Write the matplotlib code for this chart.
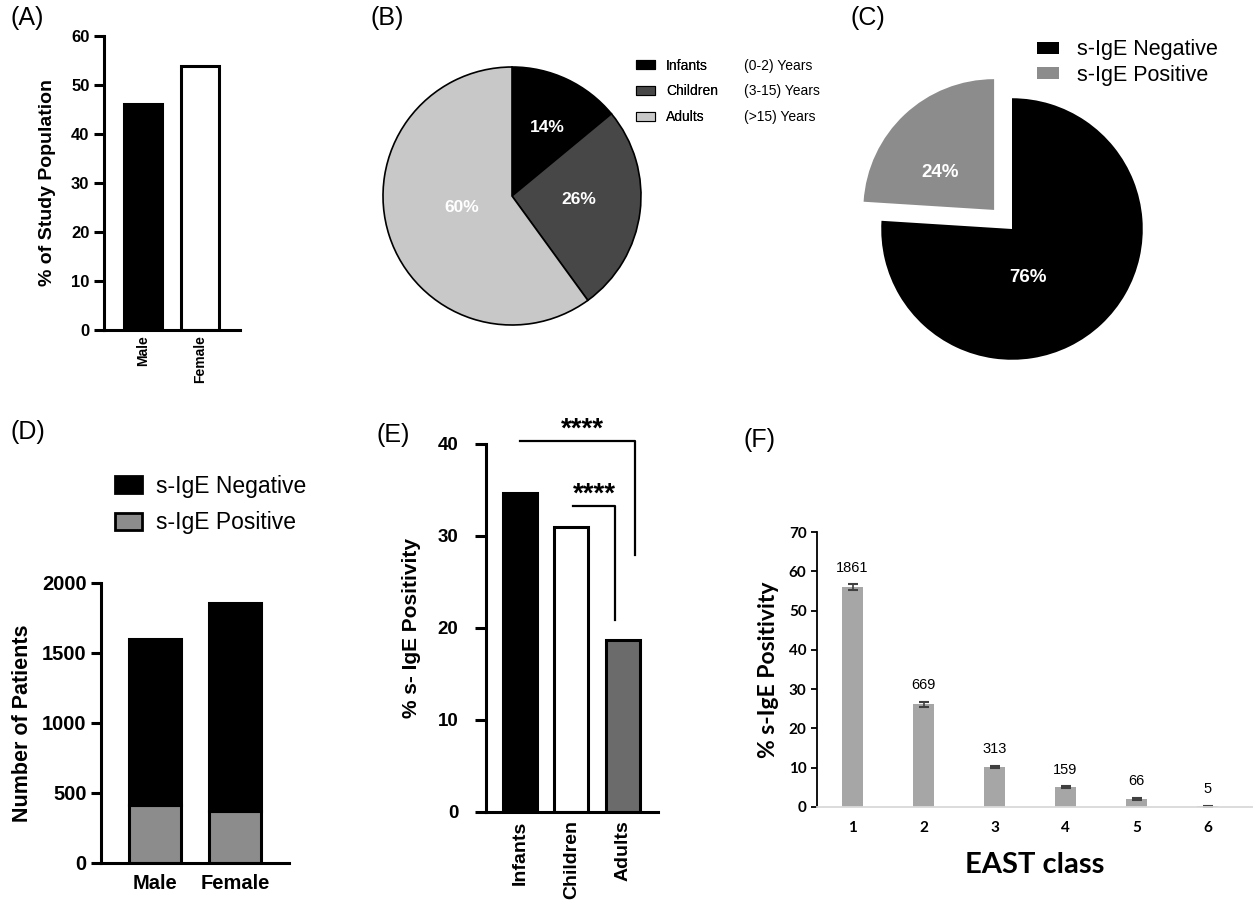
import matplotlib
matplotlib.use('Agg')
import matplotlib.pyplot as plt
from matplotlib.patches import Patch

W, H = 1253, 902

# (A) study population by sex
sex_labels = ['Male', 'Female']
sex_pct = [46.2, 53.8]

# (B) age groups
age_groups = ['Infants', 'Children', 'Adults']
age_ranges = ['(0-2) Years', '(3-15) Years', '(>15) Years']
age_pct = [14, 26, 60]

# (C) overall s-IgE result
sige_labels = ['s-IgE Negative', 's-IgE Positive']
sige_pct = [76, 24]

# (D) patient counts by sex
neg_counts = [1185, 1485]
pos_counts = [415, 375]

# (E) positivity by age group
age_positivity = [34.7, 31.0, 18.7]

# (F) positivity by EAST class
east_class = [1, 2, 3, 4, 5, 6]
east_positivity = [56.0, 26.1, 10.2, 5.1, 2.1, 0.2]
east_err = [0.7, 0.6, 0.2, 0.2, 0.2, 0.1]
east_n = [1861, 669, 313, 159, 66, 5]

plt.rcParams['font.family'] = ['Liberation Sans', 'DejaVu Sans']

fig = plt.figure(figsize=(W / 100, H / 100), dpi=100)


def px_axes(left, top, right, bottom):
    return fig.add_axes([left / W, 1 - bottom / H, (right - left) / W, (bottom - top) / H])


def style_prism(ax, lw=2.2):
    for s in ['top', 'right']:
        ax.spines[s].set_visible(False)
    for s in ['left', 'bottom']:
        ax.spines[s].set_linewidth(lw)
    ax.tick_params(axis='y', width=lw, length=7)
    ax.tick_params(axis='x', length=0)


# ---------- (A) ----------
axA = px_axes(104, 36, 240, 330)
axA.bar(range(2), sex_pct, width=0.67, color=['black', 'white'],
        edgecolor='black', linewidth=2.2)
axA.set_xlim(-0.68, 1.70)
axA.set_ylim(0, 60)
axA.set_yticks(range(0, 61, 10))
axA.set_xticks(range(2))
axA.set_xticklabels(sex_labels, rotation=90, fontsize=10, fontweight='bold')
axA.tick_params(axis='y', labelsize=12)
for t in axA.get_yticklabels():
    t.set_fontweight('bold')
axA.set_ylabel('% of Study Population', fontsize=14, fontweight='bold', labelpad=11)
style_prism(axA)

# ---------- (B) ----------
axB = px_axes(383, 67, 641, 325)
axB.pie(age_pct, colors=['black', '#474747', '#c8c8c8'], startangle=90,
        counterclock=False, wedgeprops=dict(edgecolor='black', linewidth=1.2))
label_pos = [(0.27, 0.53), (0.52, -0.03), (-0.39, -0.09)]
for pct, (x, y) in zip(age_pct, label_pos):
    axB.text(x, y, f'{pct}%', color='white', fontsize=12.5, fontweight='bold',
             ha='center', va='center')
axB.set_xlim(-1, 1)
axB.set_ylim(-1, 1)
handlesB = [Patch(facecolor=c, edgecolor='black', linewidth=0.8) for c in ['black', '#474747', '#c8c8c8']]
legB = fig.legend(handlesB, age_groups, loc='upper left', bbox_to_anchor=(623 / W, 1 - 46 / H),
                  frameon=False, fontsize=10, handlelength=1.4, handleheight=0.6,
                  labelspacing=0.85, handletextpad=0.8)
fig.add_artist(legB)
fig.legend([Patch(alpha=0)] * 3, age_ranges, loc='upper left', bbox_to_anchor=(731 / W, 1 - 46 / H),
           frameon=False, fontsize=10, handlelength=0, handletextpad=0, labelspacing=0.85)

# ---------- (C) ----------
axC = px_axes(842, 59, 1182, 399)
axC.pie(sige_pct, colors=['black', '#8c8c8c'], startangle=90, counterclock=False,
        explode=[0, 0.2], wedgeprops=dict(linewidth=0))
axC.text(0.12, -0.37, f'{sige_pct[0]}%', color='white', fontsize=13.5, fontweight='bold',
         ha='center', va='center')
axC.text(-0.55, 0.43, f'{sige_pct[1]}%', color='white', fontsize=13.5, fontweight='bold',
         ha='center', va='center')
axC.set_xlim(-1.3, 1.3)
axC.set_ylim(-1.3, 1.3)
fig.legend([Patch(facecolor='black'), Patch(facecolor='#8c8c8c')], sige_labels,
           loc='upper left', bbox_to_anchor=(1018 / W, 1 - 20 / H), frameon=False,
           fontsize=15.5, handlelength=1.0, handleheight=0.5, labelspacing=0.2, handletextpad=0.85)

# ---------- (D) ----------
axD = px_axes(101, 583, 289, 863)
xD = range(2)
axD.bar(xD, pos_counts, width=0.66, color='#8c8c8c', edgecolor='black', linewidth=2.2)
axD.bar(xD, neg_counts, bottom=pos_counts, width=0.66, color='black', edgecolor='black', linewidth=2.2)
axD.set_xlim(-0.675, 1.675)
axD.set_ylim(0, 2000)
axD.set_yticks(range(0, 2001, 500))
axD.set_xticks(xD)
axD.set_xticklabels(sex_labels, fontsize=14.5, fontweight='bold')
axD.tick_params(axis='y', labelsize=14.5)
for t in axD.get_yticklabels():
    t.set_fontweight('bold')
axD.set_ylabel('Number of Patients', fontsize=15.5, fontweight='bold', labelpad=6)
style_prism(axD)
axD.tick_params(axis='x', pad=8)
fig.legend([Patch(facecolor='black', edgecolor='black', linewidth=2),
            Patch(facecolor='#8c8c8c', edgecolor='black', linewidth=2)], sige_labels,
           loc='upper left', bbox_to_anchor=(94 / W, 1 - 454 / H), frameon=False,
           fontsize=16.5, handlelength=1.2, handleheight=0.75, labelspacing=0.6, handletextpad=0.6)

# ---------- (E) ----------
axE = px_axes(486, 444, 658, 812)
xE = range(3)
axE.bar(xE, age_positivity, width=0.66, color=['black', 'white', '#6b6b6b'],
        edgecolor='black', linewidth=2.2)
axE.set_xlim(-0.66, 2.68)
axE.set_ylim(0, 40)
axE.set_yticks(range(0, 41, 10))
axE.set_xticks(xE)
axE.set_xticklabels(age_groups, rotation=90, fontsize=14, fontweight='bold')
axE.tick_params(axis='y', labelsize=13.5)
for t in axE.get_yticklabels():
    t.set_fontweight('bold')
style_prism(axE)
axE.tick_params(axis='y', length=8, pad=12)
axE.set_ylabel('% s- IgE Positivity', fontsize=15, fontweight='bold', labelpad=12)
axE.tick_params(axis='x', pad=6)
# significance brackets
axE.plot([0, 2.23, 2.23], [40.3, 40.3, 27.9], color='black', lw=1.6, clip_on=False)
axE.text(1.22, 40.1, '****', ha='center', va='bottom', fontsize=20, fontweight='bold')
axE.plot([1.03, 1.84, 1.84], [33.3, 33.3, 20.9], color='black', lw=1.6, clip_on=False)
axE.text(1.45, 33.1, '****', ha='center', va='bottom', fontsize=20, fontweight='bold')

# ---------- (F) ----------
axF = px_axes(817, 532, 1253, 807)
axF.bar(east_class, east_positivity, width=0.3, color='#a6a6a6',
        yerr=east_err, error_kw=dict(ecolor='#404040', elinewidth=1.2, capsize=3.5, capthick=1.5))
for x, v, e, n in zip(east_class, east_positivity, east_err, east_n):
    axF.annotate(str(n), (x, v + e), xytext=(0, 12), textcoords='offset points',
                 ha='center', va='center', fontsize=10.5)
axF.set_xlim(0.5, 6.64)
axF.set_ylim(0, 70)
axF.set_yticks(range(0, 71, 10))
axF.set_xticks(east_class)
for s in ['top', 'right']:
    axF.spines[s].set_visible(False)
axF.spines['left'].set_linewidth(1.3)
axF.spines['bottom'].set_color('#d9d9d9')
axF.spines['bottom'].set_linewidth(1.3)
axF.tick_params(axis='y', length=4, width=1.3)
axF.tick_params(axis='x', length=0, pad=10)
for t in axF.get_xticklabels() + axF.get_yticklabels():
    t.set_fontfamily('Lato')
    t.set_fontweight('bold')
    t.set_fontsize(11)
axF.set_ylabel('% s-IgE Positivity', family='Lato', fontsize=16.5, fontweight='bold', labelpad=7)
axF.set_xlabel('EAST class', family='Lato', fontsize=21, fontweight='bold', labelpad=12)

# panel letters
for lab, x, y in [('(A)', 10, 18), ('(B)', 371, 18), ('(C)', 851, 18),
                  ('(D)', 10, 432), ('(E)', 376, 435), ('(F)', 743, 440)]:
    fig.text(x / W, 1 - y / H, lab, fontsize=18, ha='left', va='center')

fig.savefig('out.png', dpi=100)
